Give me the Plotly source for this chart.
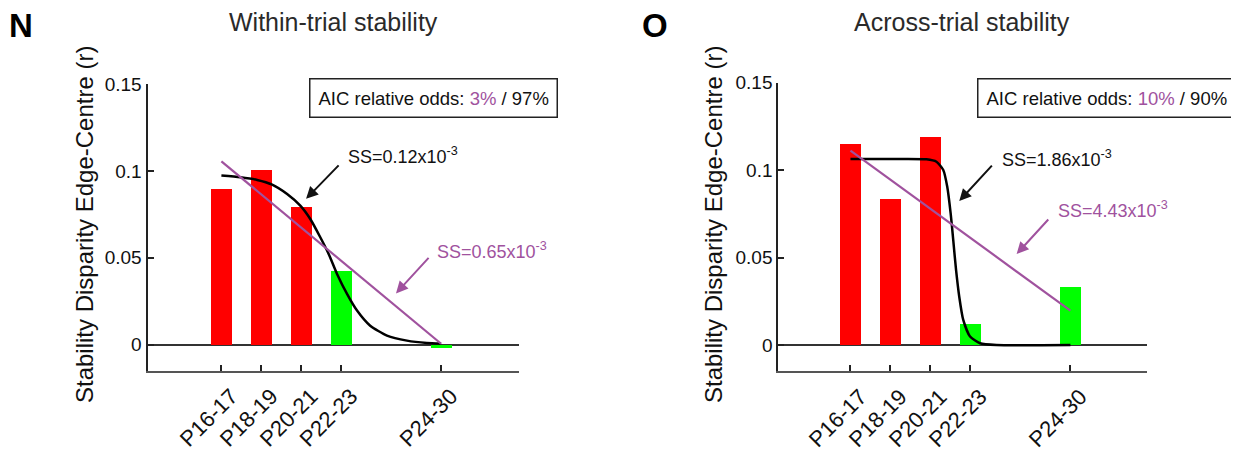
import plotly.graph_objects as go

W, H = 1239, 454
OFF = 8  # page body margin in the viewer

# ---------------- data ----------------
categories = ["P16-17", "P18-19", "P20-21", "P22-23", "P24-30"]
age_pos = [16.5, 18.5, 20.5, 22.5, 27.5]
bar_colors = ["#FF0000", "#FF0000", "#FF0000", "#00FF00", "#00FF00"]

within_vals = [0.0894, 0.1004, 0.0790, 0.0421, -0.0019]
across_vals = [0.1153, 0.0839, 0.1191, 0.0120, 0.0333]

# linear fits (end points)
within_lin_x = [16.5, 27.5]
within_lin_y = [0.1055, 0.0005]
across_lin_x = [16.5, 27.5]
across_lin_y = [0.1112, 0.0196]

# sigmoid fits
within_sig_x = [16.5, 17.45, 18.29, 19.04, 19.79, 20.45, 20.95, 21.45, 21.87,
                22.29, 22.79, 23.29, 23.95, 24.79, 25.79, 26.79, 27.5]
within_sig_y = [0.0973, 0.0963, 0.0948, 0.0921, 0.0867, 0.0800, 0.0723, 0.0618,
                0.0522, 0.0407, 0.0292, 0.0196, 0.0109, 0.0052, 0.0023, 0.0010, 0.0007]
across_sig_x = [16.5, 18.8, 20.3, 20.8, 21.14, 21.34, 21.51, 21.64, 21.78,
                21.94, 22.14, 22.48, 22.98, 23.8, 27.5]
across_sig_y = [0.1064, 0.1064, 0.1062, 0.1048, 0.1001, 0.0905, 0.0753, 0.0600,
                0.0429, 0.0276, 0.0143, 0.0048, 0.0010, 0.0, 0.0]

titles = ["Within-trial stability", "Across-trial stability"]
panel_letters = ["N", "O"]
ytitle = "Stability Disparity Edge-Centre (r)"
ytick_vals = [0, 0.05, 0.1, 0.15]
ytick_text = ["0", "0.05", "0.1", "0.15"]
aic_lin = ["3%", "10%"]
aic_sig = ["97%", "90%"]
ss_sig = ["0.12", "1.86"]
ss_lin = ["0.65", "4.43"]

PURPLE = "#A0529E"
FONT = "Arial, Liberation Sans, Helvetica, sans-serif"


def fx(p):
    return (p - OFF) / W


def fy(p):
    return 1 - (p - OFF) / H


fig = go.Figure()

panels = [
    dict(vals=within_vals, lx=within_lin_x, ly=within_lin_y, sx=within_sig_x, sy=within_sig_y,
         xa="x", ya="y"),
    dict(vals=across_vals, lx=across_lin_x, ly=across_lin_y, sx=across_sig_x, sy=across_sig_y,
         xa="x2", ya="y2"),
]

for p in panels:
    fig.add_trace(go.Bar(x=age_pos, y=p["vals"], width=1.05, marker=dict(color=bar_colors, line=dict(width=0)),
                         xaxis=p["xa"], yaxis=p["ya"], showlegend=False, hoverinfo="skip"))
    fig.add_trace(go.Scatter(x=p["sx"], y=p["sy"], mode="lines",
                             line=dict(color="black", width=2.5, shape="spline", smoothing=0.6),
                             xaxis=p["xa"], yaxis=p["ya"], showlegend=False, hoverinfo="skip"))
    fig.add_trace(go.Scatter(x=p["lx"], y=p["ly"], mode="lines", line=dict(color=PURPLE, width=2.2),
                             xaxis=p["xa"], yaxis=p["ya"], showlegend=False, hoverinfo="skip"))

# axes geometry (pixels in the final picture)
geo = [
    dict(x0=147.5, x1=519.0, y0=84.0, y1=370.7, xr=[12.8, 31.4]),
    dict(x0=778.3, x1=1147.0, y0=82.7, y1=371.2, xr=[12.89, 31.33]),
]

axis_common_x = dict(
    tickmode="array", tickvals=age_pos, ticktext=categories, tickangle=-45,
    ticks="inside", ticklen=6, tickwidth=1.5, tickcolor="#222",
    showline=True, linecolor="#555", linewidth=2, showgrid=False, zeroline=False,
    tickfont=dict(family=FONT, size=22, color="#111"), automargin=False,
    ticklabelshift=10, ticklabelstandoff=2,
)
axis_common_y = dict(
    tickmode="array", tickvals=ytick_vals, ticktext=ytick_text,
    ticks="inside", ticklen=6, tickwidth=1.5, tickcolor="#222",
    showline=True, linecolor="#222", linewidth=2, showgrid=False,
    zeroline=True, zerolinecolor="#333", zerolinewidth=1.5,
    tickfont=dict(family=FONT, size=19, color="#111"), range=[-0.015, 0.15], automargin=False,
)

layout = dict(width=W, height=H, autosize=False, margin=dict(l=0, r=0, t=0, b=0),
              plot_bgcolor="white", paper_bgcolor="white", bargap=0, showlegend=False)
for i, g in enumerate(geo):
    sx = "" if i == 0 else "2"
    ax = dict(axis_common_x); ax.update(domain=[fx(g["x0"]), fx(g["x1"])], range=g["xr"], anchor="y" + sx)
    ay = dict(axis_common_y); ay.update(domain=[fy(g["y1"]), fy(g["y0"])], anchor="x" + sx)
    layout["xaxis" + sx] = ax
    layout["yaxis" + sx] = ay
fig.update_layout(**layout)

ann = []
title_cx = [333, 962]
letter_cx = [21.5, 655]
ytitle_cx = [84, 713]
for i in range(2):
    ann.append(dict(text=titles[i], x=fx(title_cx[i]), y=fy(22), xref="paper", yref="paper",
                    xanchor="center", yanchor="middle", showarrow=False,
                    font=dict(family=FONT, size=25, color="#2a2a2a")))
    ann.append(dict(text="<b>" + panel_letters[i] + "</b>", x=fx(letter_cx[i]), y=fy(26), xref="paper", yref="paper",
                    xanchor="center", yanchor="middle", showarrow=False,
                    font=dict(family=FONT, size=33, color="black")))
    ann.append(dict(text=ytitle, x=fx(ytitle_cx[i]), y=fy(225), xref="paper", yref="paper",
                    xanchor="center", yanchor="middle", showarrow=False, textangle=-90,
                    font=dict(family=FONT, size=24, color="#111")))

# AIC boxes
box_left = [309, 977]
for i in range(2):
    ann.append(dict(text="AIC relative odds: <span style='color:%s'>%s</span> / %s" % (PURPLE, aic_lin[i], aic_sig[i]),
                    x=fx(box_left[i]), y=fy(98), xref="paper", yref="paper",
                    xanchor="left", yanchor="middle", showarrow=False,
                    bordercolor="#222", borderwidth=1.5, borderpad=8, bgcolor="white",
                    font=dict(family=FONT, size=18.5, color="#111")))

# SS labels and arrows (data coords)
ss_specs = [
    ("x", "y", "SS=%sx10<sup>-3</sup>" % ss_sig[0], "#111", 22.75, 0.1088, 20.74, 0.0839, 34, -35),
    ("x", "y", "SS=%sx10<sup>-3</sup>" % ss_lin[0], PURPLE, 27.2, 0.0541, 25.24, 0.0295, 34, -37),
    ("x2", "y2", "SS=%sx10<sup>-3</sup>" % ss_sig[1], "#111", 23.98, 0.1069, 21.94, 0.0823, 34, -37),
    ("x2", "y2", "SS=%sx10<sup>-3</sup>" % ss_lin[1], PURPLE, 26.78, 0.0772, 24.81, 0.052, 33, -36),
]
for xr, yr, txt, col, tx, ty, hx, hy, axp, ayp in ss_specs:
    ann.append(dict(text=txt, x=tx, y=ty, xref=xr, yref=yr, xanchor="left", yanchor="middle",
                    showarrow=False, font=dict(family=FONT, size=18, color=col)))
    ann.append(dict(text="", x=hx, y=hy, xref=xr, yref=yr, ax=axp, ay=ayp, showarrow=True,
                    arrowhead=2, arrowsize=1.2, arrowwidth=2, arrowcolor=col))

fig.update_layout(annotations=ann)
fig.write_html("out.html")
